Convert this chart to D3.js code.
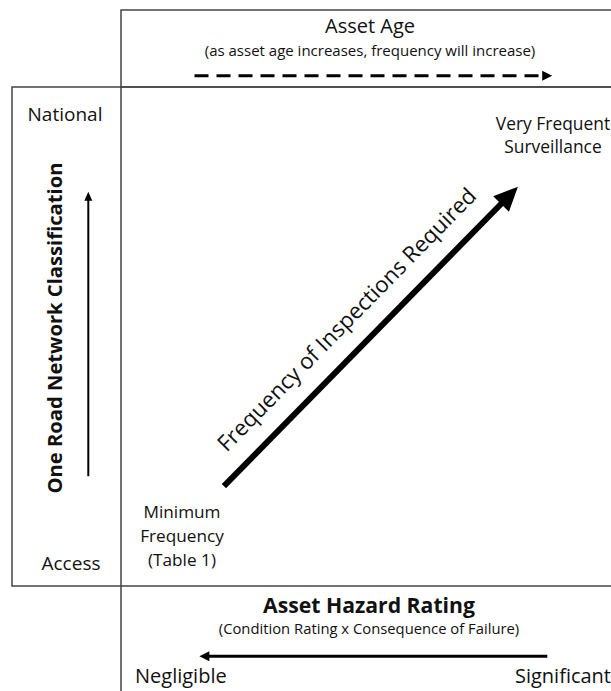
<!DOCTYPE html>
<html lang="en">
<head>
<meta charset="utf-8">
<title>Inspection Frequency</title>
<script src="https://cdn.jsdelivr.net/npm/d3@7"></script>
<style>
  body { margin: 0; background: #fff; }
  svg text { font-family: "Open Sans", Lato, sans-serif; fill: #111; }
</style>
</head>
<body>
<div class="chart"></div>
<script>
// labels for each panel
const ageTitle = ["Asset Age", "(as asset age increases, frequency will increase)"];
const classTitle = "One Road Network Classification";
const classEnds = ["Access", "National"];
const hazardTitle = ["Asset Hazard Rating", "(Condition Rating x Consequence of Failure)"];
const hazardEnds = ["Negligible", "Significant"];
const freqTitle = "Frequency of Inspections Required";
const freqLow = ["Minimum", "Frequency", "(Table 1)"];
const freqHigh = ["Very Frequent", "Surveillance"];

// arrow ends, 0..1 along each dimension
const ageArrow = [0.15, 0.88];
const classArrow = [0.22, 0.79];
const hazardArrow = [0.87, 0.16];
const freqArrow = [[0.21, 0.2], [0.81, 0.8]];

const width = 611, height = 691;
const svg = d3.select(".chart").append("svg")
    .attr("width", width)
    .attr("height", height);

// main quadrant scales
const x = d3.scaleLinear().domain([0, 1]).range([121, 611]);
const y = d3.scaleLinear().domain([0, 1]).range([586, 87]);
const leftX = d3.scaleLinear().domain([0, 1]).range([12, 121]);
const topY = d3.scaleLinear().domain([0, 1]).range([87, 10]);
const botY = d3.scaleLinear().domain([0, 1]).range([586, 691]);

const frame = svg.append("g")
    .attr("fill", "none")
    .attr("stroke", "#444")
    .attr("stroke-width", 1.5);

// boxes
frame.append("rect").attr("x", x(0)).attr("y", topY(1)).attr("width", 520).attr("height", topY(0) - topY(1));
frame.append("rect").attr("x", leftX(0)).attr("y", y(1)).attr("width", leftX(1) - leftX(0)).attr("height", y(0) - y(1));
frame.append("rect").attr("x", x(0)).attr("y", y(0)).attr("width", 520).attr("height", 120);
frame.append("line").attr("x1", x(0)).attr("x2", x(1)).attr("y1", y(1)).attr("y2", y(1));

function arrowHead(tipX, tipY, angle, len, half) {
    const ca = Math.cos(angle), sa = Math.sin(angle);
    const bx = tipX - len * ca, by = tipY - len * sa;
    return `M${tipX},${tipY}L${bx - half * sa},${by + half * ca}L${bx + half * sa},${by - half * ca}Z`;
}

function arrow(g, x1, y1, x2, y2, sw, len, half, dash) {
    const a = Math.atan2(y2 - y1, x2 - x1);
    g.append("line")
        .attr("x1", x1).attr("y1", y1)
        .attr("x2", x2 - (len - 2) * Math.cos(a)).attr("y2", y2 - (len - 2) * Math.sin(a))
        .attr("stroke", "#000")
        .attr("stroke-width", sw)
        .attr("stroke-dasharray", dash || null);
    g.append("path").attr("d", arrowHead(x2, y2, a, len, half)).attr("fill", "#000");
}

// top: asset age
const ageG = svg.append("g");
ageG.selectAll("text").data(ageTitle).join("text")
    .attr("x", 370)
    .attr("y", (d, i) => i === 0 ? topY(0.7) : topY(0.4))
    .attr("text-anchor", "middle")
    .attr("font-size", (d, i) => i === 0 ? 20 : 15)
    .text(d => d);
arrow(ageG, x(ageArrow[0]), topY(0.145), x(ageArrow[1]), topY(0.145), 3, 10, 5, "14,8");

// left: network classification
const classG = svg.append("g");
classG.selectAll(".end").data(classEnds).join("text")
    .attr("class", "end")
    .attr("x", (d, i) => i === 0 ? 71 : 65)
    .attr("y", (d, i) => i === 0 ? y(0.032) : y(0.932))
    .attr("text-anchor", "middle")
    .attr("font-size", 19)
    .text(d => d);
classG.append("text")
    .attr("transform", `translate(${leftX(0.46)},${y(0.517)}) rotate(-90)`)
    .attr("text-anchor", "middle")
    .attr("font-size", 20.2)
    .attr("font-weight", "bold")
    .text(classTitle);
arrow(classG, leftX(0.7), y(classArrow[0]), leftX(0.7), y(classArrow[1]), 2, 9, 4);

// bottom: hazard rating
const hazG = svg.append("g");
hazG.selectAll(".title").data(hazardTitle).join("text")
    .attr("class", "title")
    .attr("x", 369)
    .attr("y", (d, i) => i === 0 ? botY(0.26) : botY(0.46))
    .attr("text-anchor", "middle")
    .attr("font-size", (d, i) => i === 0 ? 21.2 : 14.8)
    .attr("font-weight", (d, i) => i === 0 ? "bold" : null)
    .text(d => d);
hazG.selectAll(".end").data(hazardEnds).join("text")
    .attr("class", "end")
    .attr("x", (d, i) => i === 0 ? 135 : 611)
    .attr("y", botY(0.92))
    .attr("text-anchor", (d, i) => i === 0 ? "start" : "end")
    .attr("font-size", 20)
    .text(d => d);
arrow(hazG, x(hazardArrow[0]), botY(0.67), x(hazardArrow[1]), botY(0.67), 3, 10, 5);

// centre: frequency arrow
const mid = svg.append("g");
const [p0, p1] = freqArrow;
arrow(mid, x(p0[0]), y(p0[1]), x(p1[0]), y(p1[1]), 6, 24, 11);
const ang = Math.atan2(y(p1[1]) - y(p0[1]), x(p1[0]) - x(p0[0])) * 180 / Math.PI;
mid.append("text")
    .attr("transform", `translate(${x(0.472)},${y(0.523)}) rotate(${ang})`)
    .attr("text-anchor", "middle")
    .attr("font-size", 22.2)
    .text(freqTitle);

mid.selectAll(".low").data(freqLow).join("text")
    .attr("class", "low")
    .attr("x", 182)
    .attr("y", (d, i) => y(0.137) + i * 24)
    .attr("text-anchor", "middle")
    .attr("font-size", 17.2)
    .text(d => d);
mid.selectAll(".high").data(freqHigh).join("text")
    .attr("class", "high")
    .attr("x", 553)
    .attr("y", (d, i) => y(0.913) + i * 23)
    .attr("text-anchor", "middle")
    .attr("font-size", 17.4)
    .text(d => d);
</script>
</body>
</html>
